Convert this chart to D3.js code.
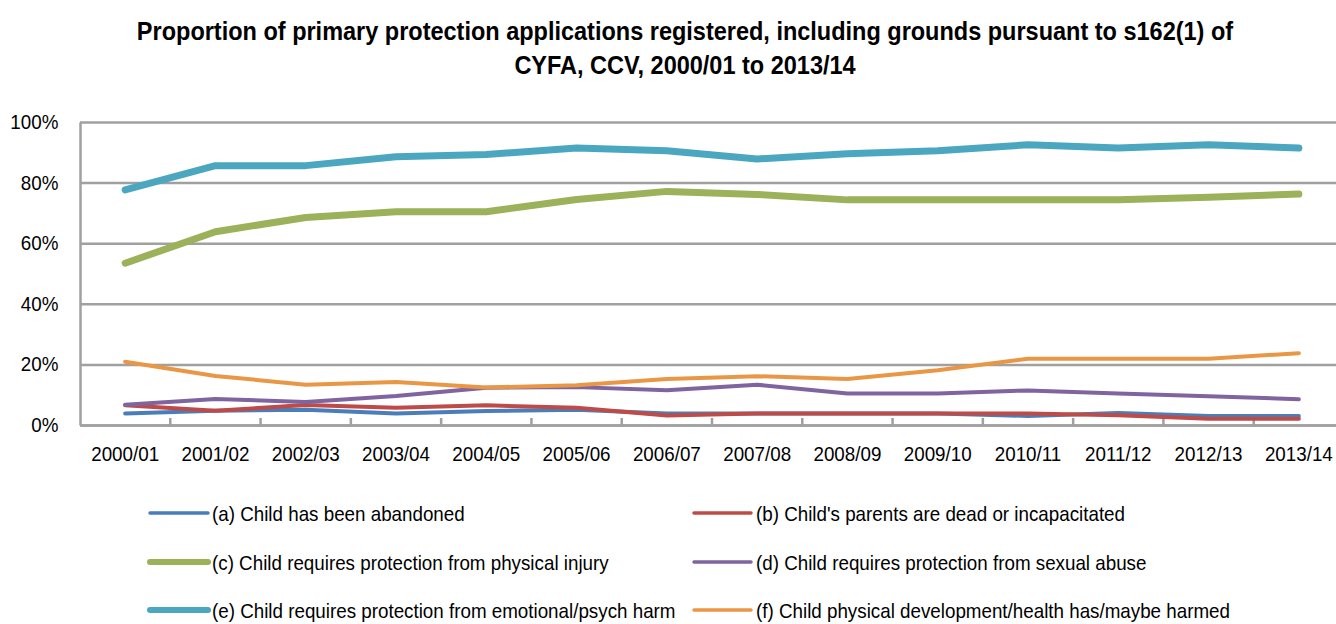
<!DOCTYPE html>
<html>
<head>
<meta charset="utf-8">
<script src="https://cdn.jsdelivr.net/npm/d3@7/dist/d3.min.js"></script>
<style>
  html, body { margin: 0; padding: 0; background: #fff; }
  svg { display: block; }
  text { font-family: "Liberation Sans", Arial, sans-serif; fill: #000; }
</style>
</head>
<body>
<svg id="chart" width="1336" height="624"></svg>
<script>
const categories = ["2000/01","2001/02","2002/03","2003/04","2004/05","2005/06","2006/07","2007/08","2008/09","2009/10","2010/11","2011/12","2012/13","2013/14"];
const yTicks = [0, 20, 40, 60, 80, 100];

const seriesNames = [
  "(a) Child has been abandoned",
  "(b) Child's parents are dead or incapacitated",
  "(c) Child requires protection from physical injury",
  "(d) Child requires protection from sexual abuse",
  "(e) Child requires protection from emotional/psych harm",
  "(f) Child physical development/health has/maybe harmed"
];
const valuesA = [3.8, 4.7, 5.0, 3.8, 4.6, 5.0, 3.8, 3.8, 3.8, 3.8, 3.0, 4.0, 3.0, 3.0];
const valuesB = [6.5, 4.7, 6.6, 5.7, 6.5, 5.7, 3.1, 3.8, 3.8, 3.8, 3.8, 3.2, 2.1, 2.1];
const valuesC = [53.4, 63.8, 68.5, 70.4, 70.4, 74.4, 77.1, 76.1, 74.3, 74.3, 74.3, 74.3, 75.2, 76.2];
const valuesD = [6.7, 8.6, 7.6, 9.6, 12.3, 12.5, 11.5, 13.3, 10.4, 10.4, 11.4, 10.4, 9.5, 8.5];
const valuesE = [77.6, 85.6, 85.6, 88.5, 89.3, 91.4, 90.5, 87.8, 89.5, 90.5, 92.5, 91.4, 92.5, 91.4];
const valuesF = [20.9, 16.2, 13.3, 14.2, 12.4, 13.1, 15.2, 16.1, 15.2, 18.1, 21.9, 21.9, 21.9, 23.7];

const seriesValues = [valuesA, valuesB, valuesC, valuesD, valuesE, valuesF];
const colors = ["#4A7EBB", "#BE4B48", "#9BB15A", "#7F64A0", "#4BA7BF", "#E99745"];
const widths = [4, 4, 7, 4, 7, 4];

const svg = d3.select("#chart");
const plotLeft = 80, plotRight = 1344, plotTop = 122, plotBottom = 425;
const sx = 0.94; // horizontal text condensing

const x = d3.scaleBand().domain(categories).range([plotLeft, plotRight]).padding(0);
const y = d3.scaleLinear().domain([0, 100]).range([plotBottom, plotTop]);

// title
const title = svg.append("text")
  .attr("transform", `translate(685,0) scale(${sx},1)`)
  .attr("text-anchor", "middle")
  .style("font-weight", "bold").style("font-size", "25px");
title.append("tspan").attr("x", 0).attr("y", 40).text("Proportion of primary protection applications registered, including grounds pursuant to s162(1) of");
title.append("tspan").attr("x", 0).attr("y", 74).text("CYFA, CCV, 2000/01 to 2013/14");

// gridlines
svg.append("g")
  .attr("transform", `translate(${plotLeft},0)`)
  .call(d3.axisLeft(y).tickValues(yTicks).tickSize(-(plotRight - plotLeft)).tickFormat(""))
  .call(g => g.select(".domain").remove())
  .call(g => g.selectAll(".tick line").attr("stroke", "#A0A0A0").attr("stroke-width", 2.5));

// y axis labels
svg.append("g")
  .attr("transform", `translate(${plotLeft},0)`)
  .call(d3.axisLeft(y).tickValues(yTicks).tickSize(0).tickPadding(23).tickFormat(d => d + "%"))
  .call(g => g.select(".domain").attr("stroke", "#A0A0A0").attr("stroke-width", 2.5))
  .call(g => g.selectAll(".tick text").style("font-size", "20px").attr("fill", "#000")
    .attr("transform", `scale(${sx},1)`));

// x axis
const xTickPos = categories.map(c => x(c)).slice(1);
svg.append("g")
  .attr("transform", `translate(0,${plotBottom})`)
  .call(d3.axisBottom(x).tickSize(0).tickPadding(22))
  .call(g => g.select(".domain").attr("stroke", "#A0A0A0").attr("stroke-width", 2.5))
  .call(g => g.selectAll(".tick text").style("font-size", "20px").attr("fill", "#000")
    .attr("transform", `scale(${sx},1)`));

svg.append("g").selectAll("line").data(xTickPos).join("line")
  .attr("x1", d => d).attr("x2", d => d)
  .attr("y1", plotBottom).attr("y2", plotBottom - 7)
  .attr("stroke", "#A0A0A0").attr("stroke-width", 2.5);

// lines
const line = d3.line()
  .x((d, i) => x(categories[i]) + x.bandwidth() / 2)
  .y(d => y(d));

svg.append("g").selectAll("path").data(seriesValues).join("path")
  .attr("d", d => line(d))
  .attr("fill", "none")
  .attr("stroke", (d, i) => colors[i])
  .attr("stroke-width", (d, i) => widths[i])
  .attr("stroke-linejoin", "round")
  .attr("stroke-linecap", "round");

// legend
const legendCols = [{lx1: 150, lx2: 208, tx: 212}, {lx1: 694, lx2: 751, tx: 756}];
const legendRows = [517, 566, 614];
const leg = svg.append("g").selectAll("g").data(seriesNames).join("g")
  .attr("transform", (d, i) => `translate(0,${legendRows[Math.floor(i / 2)]})`);
leg.append("line")
  .attr("x1", (d, i) => legendCols[i % 2].lx1)
  .attr("x2", (d, i) => legendCols[i % 2].lx2)
  .attr("y1", -4).attr("y2", -4)
  .attr("stroke", (d, i) => colors[i])
  .attr("stroke-width", (d, i) => widths[i] === 7 ? 6 : 3.5)
  .attr("stroke-linecap", "round");
leg.append("text")
  .attr("transform", (d, i) => `translate(${legendCols[i % 2].tx},4) scale(${sx},1)`)
  .style("font-size", "20px")
  .text(d => d);
</script>
</body>
</html>
